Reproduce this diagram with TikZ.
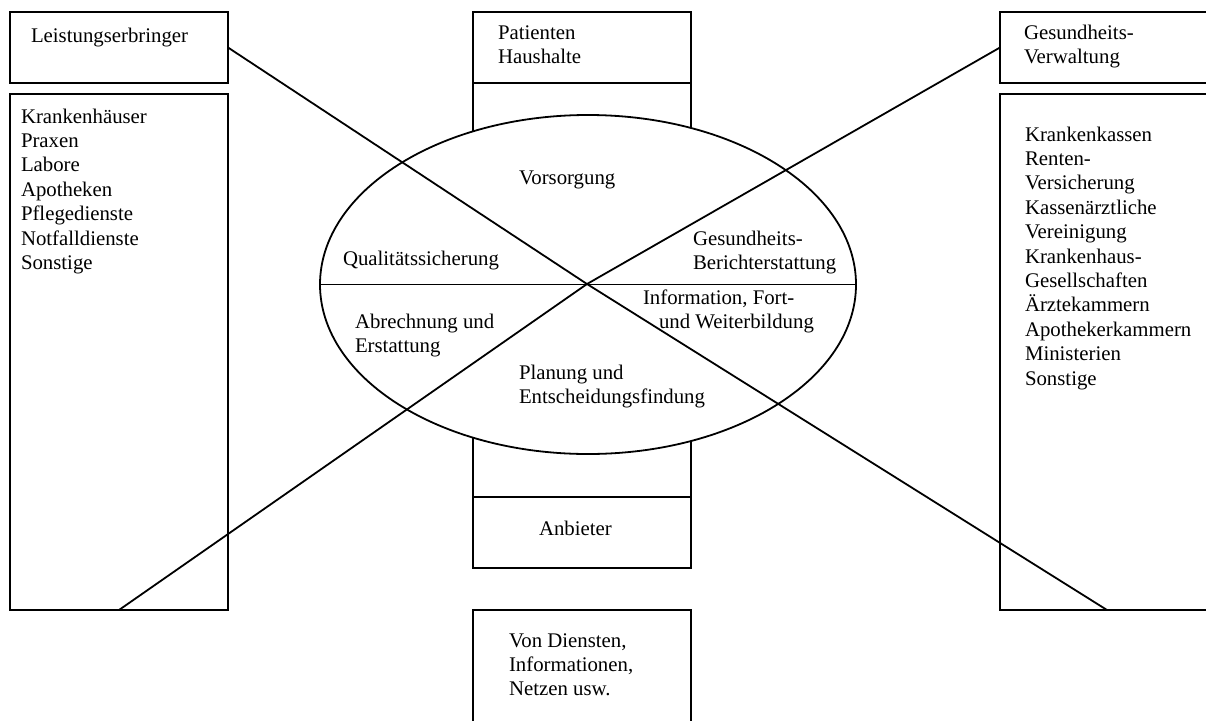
\documentclass[tikz,border=0pt]{standalone}
\usepackage{fontspec}
\setmainfont{Liberation Serif}
\usetikzlibrary{shapes.geometric}
\newcommand{\lblfont}{\fontsize{20.8pt}{24.4pt}\selectfont}
% stacked lines whose baseline is that of the first line
\newcommand{\textrows}[1]{\begin{tabular}[t]{@{}l@{}}#1\end{tabular}}
\tikzset{
  frame/.style={draw, line width=1.8pt, outer sep=0pt, inner sep=0pt, anchor=north west},
  lbl/.style={anchor=base west, inner sep=0pt, outer sep=0pt, font=\lblfont},
  link/.style={line width=1.8pt},
}
\begin{document}
\begin{tikzpicture}[x=1pt, y=-1pt]
  \useasboundingbox (0,0) rectangle (1206,720);
  \begin{scope}
    \clip (0,0) rectangle (1206,720);

    % left column: provider title and list
    \node[frame, minimum width=218pt, minimum height=71pt] (leist) at (10,12) {};
    \node[frame, minimum width=218pt, minimum height=516pt] (lbox) at (10,94) {};

    % middle column
    \node[frame, minimum width=218pt, minimum height=71pt] (pat) at (473,12) {};
    \node[frame, minimum width=218pt, minimum height=414pt] (col) at (473,83) {};
    \node[frame, minimum width=218pt, minimum height=71pt] (anb) at (473,497) {};
    \node[frame, minimum width=218pt, minimum height=125pt] (von) at (473,610) {};

    % right column: administration title and list
    \node[frame, minimum width=214pt, minimum height=71pt] (gesund) at (1000,12) {};
    \node[frame, minimum width=214pt, minimum height=516pt] (rbox) at (1000,94) {};

    % central ellipse with its horizontal divider
    \node[ellipse, draw, fill=white, line width=1.8pt, outer sep=0pt, inner sep=0pt,
          minimum width=536pt, minimum height=339pt] (ell) at (588,284.5) {};
    \draw[link] (ell.west) -- (ell.east);

    % the two crossing lines through the centre
    \coordinate (x) at (587,284);
    \draw[link] (leist.east) -- (x) -- (rbox.south);
    \draw[link] (lbox.south) -- (x) -- (gesund.west);
  \end{scope}

  % box labels
  \node[lbl] (tleist) at (31,42) {Leistungserbringer};
  \node[lbl] (tlbox) at (21,123) {\textrows{Krankenhäuser\\Praxen\\Labore\\Apotheken\\Pflegedienste\\Notfalldienste\\Sonstige}};
  \node[lbl] (tpat) at (498,39) {\textrows{Patienten\\Haushalte}};
  \node[lbl] (tgesund) at (1024,39) {\textrows{Gesundheits-\\Verwaltung}};
  \node[lbl] (trbox) at (1025,141) {\textrows{Krankenkassen\\Renten-\\Versicherung\\Kassenärztliche\\Vereinigung\\Krankenhaus-\\Gesellschaften\\Ärztekammern\\Apothekerkammern\\Ministerien\\Sonstige}};
  \node[lbl] (tanb) at (539,535) {Anbieter};
  \node[lbl] (tvon) at (509,647) {\textrows{Von Diensten,\\Informationen,\\Netzen usw.}};

  % ellipse sector labels
  \node[lbl] (tvor) at (519,184) {Vorsorgung};
  \node[lbl] (tqual) at (343,265) {Qualitätssicherung};
  \node[lbl] (tber) at (693,245) {\textrows{Gesundheits-\\Berichterstattung}};
  \node[lbl] (tinf) at (643,304) {\textrows{Information, Fort-\\\hspace{16pt}und Weiterbildung}};
  \node[lbl] (tabr) at (355,328) {\textrows{Abrechnung und\\Erstattung}};
  \node[lbl] (tplan) at (519,379) {\textrows{Planung und\\Entscheidungsfindung}};
\end{tikzpicture}
\end{document}
